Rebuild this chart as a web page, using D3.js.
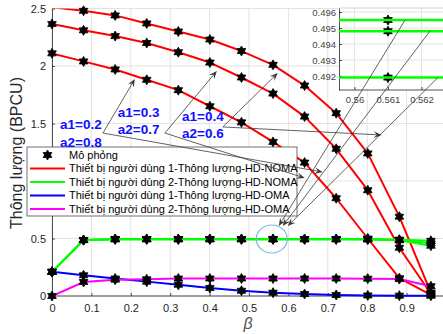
<!DOCTYPE html>
<html><head><meta charset="utf-8">
<script src="https://cdn.jsdelivr.net/npm/d3@7"></script>
<style>
body{margin:0;background:#fff}
svg{display:block}
text{font-family:"Liberation Sans",Arial,Helvetica,sans-serif}
</style>
</head><body>
<svg id="c" width="443" height="334"></svg>
<script>
// ---------------- data ----------------
const beta = [0, 0.0801, 0.1603, 0.2404, 0.3206, 0.4007, 0.4809, 0.5610, 0.6411, 0.7213, 0.8014, 0.8816, 0.9617];
// user 1, HD-NOMA (red), three power allocations
const u1NomaA02 = [2.11, 2.04, 1.97, 1.88, 1.79, 1.65, 1.51, 1.34, 1.16, 0.85, 0.50, 0.155, 0.01];
const u1NomaA03 = [2.365, 2.31, 2.26, 2.20, 2.12, 2.03, 1.90, 1.76, 1.56, 1.28, 0.92, 0.42, 0.02];
const u1NomaA04 = [2.51, 2.48, 2.44, 2.37, 2.30, 2.23, 2.13, 2.01, 1.83, 1.59, 1.24, 0.69, 0.03];
// user 2, HD-NOMA (green), three power allocations
const u2NomaA02 = [0.21, 0.487, 0.4955, 0.4955, 0.4955, 0.4955, 0.4955, 0.4955, 0.4955, 0.4954, 0.495, 0.49, 0.48];
const u2NomaA03 = [0.21, 0.487, 0.4948, 0.4948, 0.4948, 0.4948, 0.4948, 0.4948, 0.4948, 0.4947, 0.494, 0.487, 0.458];
const u2NomaA04 = [0.21, 0.485, 0.4919, 0.4919, 0.4919, 0.4919, 0.4919, 0.4919, 0.4919, 0.4918, 0.491, 0.485, 0.437];
// OMA
const u1Oma = [0.21, 0.18, 0.152, 0.125, 0.098, 0.07, 0.046, 0.029, 0.017, 0.009, 0.005, 0.003, 0.002];
const u2Oma = [0, 0.122, 0.142, 0.145, 0.152, 0.152, 0.152, 0.152, 0.152, 0.152, 0.151, 0.147, 0.085];

const xTicks = [0, 0.1, 0.2, 0.3, 0.4, 0.5, 0.6, 0.7, 0.8, 0.9];
const yTicks = [0, 0.5, 1, 1.5, 2, 2.5];
const insetXTicks = [0.56, 0.561, 0.562];
const insetYTicks = [0.492, 0.493, 0.494, 0.495, 0.496];
const legendLabels = ["Mô phỏng",
  "Thiết bị người dùng 1-Thông lượng-HD-NOMA",
  "Thiết bị người dùng 2-Thông lượng-HD-NOMA",
  "Thiết bị người dùng 1-Thông lượng-HD-OMA",
  "Thiết bị người dùng 2-Thông lượng-HD-OMA"];
const yLabel = "Thông lượng (BPCU)";
const xLabel = "β";

// ---------------- setup ----------------
const red = "#ff0000", green = "#00ff00", blue = "#0000ff", magenta = "#ff00ff";
const series = [
  {v: u1NomaA02, c: red}, {v: u1NomaA03, c: red}, {v: u1NomaA04, c: red},
  {v: u2NomaA02, c: green}, {v: u2NomaA03, c: green}, {v: u2NomaA04, c: green},
  {v: u1Oma, c: blue}, {v: u2Oma, c: magenta}
];

const svg = d3.select("#c");
const x = d3.scaleLinear([0, 1], [52, 446]);
const y = d3.scaleLinear([0, 2.5], [296, 8.5]);
const axisCol = "#262626", gridCol = "#e3e3e3";

function hexPath(R) {
  const p = [];
  for (let i = 0; i < 12; i++) {
    const a = -Math.PI / 2 + i * Math.PI / 6;
    const r = i % 2 === 0 ? R : R / Math.sqrt(3);
    p.push([r * Math.cos(a), r * Math.sin(a)]);
  }
  return "M" + p.map(d => d[0].toFixed(2) + "," + d[1].toFixed(2)).join("L") + "Z";
}
const hex = hexPath(5.0);

const defs = svg.append("defs");
defs.append("clipPath").attr("id", "mainClip").append("rect")
  .attr("x", 52).attr("y", 8.5).attr("width", 400).attr("height", 289);

// grid
const grid = svg.append("g");
grid.selectAll(".gx").data(xTicks).join("line")
  .attr("x1", d => x(d)).attr("x2", d => x(d)).attr("y1", y(0)).attr("y2", y(2.5))
  .attr("stroke", gridCol).attr("stroke-width", 1);
grid.selectAll(".gy").data(yTicks).join("line")
  .attr("x1", x(0)).attr("x2", 443).attr("y1", d => y(d)).attr("y2", d => y(d))
  .attr("stroke", gridCol).attr("stroke-width", 1);

// axes
const gx = svg.append("g").attr("transform", `translate(0,${y(0)})`)
  .call(d3.axisBottom(x).tickValues(xTicks).tickFormat(d3.format("")).tickSizeInner(-3).tickSizeOuter(0).tickPadding(8));
const gy = svg.append("g").attr("transform", `translate(${x(0)},0)`)
  .call(d3.axisLeft(y).tickValues(yTicks).tickFormat(d3.format("")).tickSizeInner(-3).tickSizeOuter(0).tickPadding(6));
[gx, gy].forEach(g => {
  g.select(".domain").attr("stroke", axisCol).attr("stroke-width", 0.8);
  g.selectAll(".tick line").attr("stroke", axisCol).attr("stroke-width", 0.8);
  g.selectAll(".tick text").attr("fill", axisCol).attr("font-size", 11)
    .attr("font-family", '"Liberation Sans",Arial,Helvetica,sans-serif');
});
gx.select(".domain").attr("d", `M${x(0)},0H443`);

// axis labels
svg.append("text").attr("transform", "translate(22,153) rotate(-90)")
  .attr("text-anchor", "middle").attr("font-size", 16).attr("fill", axisCol).text(yLabel);
svg.append("text").attr("x", 248).attr("y", 329).attr("text-anchor", "middle")
  .attr("font-size", 16).attr("font-style", "italic").attr("fill", "#555").text(xLabel);

// plot marks
const plot = svg.append("g").attr("clip-path", "url(#mainClip)");
const line = d3.line().x((d, i) => x(beta[i])).y(d => y(d));
// markers ("Mô phỏng") first
const mk = svg.append("g");
series.forEach(s => {
  mk.selectAll(null).data(s.v.map((v, i) => [beta[i], v]).filter(d => d[1] <= 2.5)).join("path")
    .attr("d", hex).attr("transform", d => `translate(${x(d[0])},${y(d[1])})`)
    .attr("fill", "#000").attr("stroke", "#000").attr("stroke-width", 0.8);
});
series.forEach(s => {
  plot.append("path").attr("d", line(s.v)).attr("fill", "none")
    .attr("stroke", s.c).attr("stroke-width", 2).attr("stroke-linejoin", "round");
});

// zoom circle
svg.append("ellipse").attr("cx", x(0.5578)).attr("cy", y(0.4957)).attr("rx", 15.5).attr("ry", 14)
  .attr("fill", "none").attr("stroke", "#80b4dc").attr("stroke-width", 1.2);

// legend
const lg = svg.append("g");
lg.append("rect").attr("x", 27).attr("y", 147).attr("width", 270).attr("height", 69)
  .attr("fill", "#fff").attr("stroke", "#333").attr("stroke-width", 0.7);
const legColors = [null, red, green, blue, magenta];
legendLabels.forEach((t, i) => {
  const cy = 155 + i * 13.5;
  if (i === 0) {
    lg.append("path").attr("d", hex).attr("transform", `translate(47.5,${cy})`).attr("fill", "#000").attr("stroke", "#000").attr("stroke-width", 0.8);
  } else {
    lg.append("line").attr("x1", 30).attr("x2", 65).attr("y1", cy).attr("y2", cy)
      .attr("stroke", legColors[i]).attr("stroke-width", 2);
  }
  lg.append("text").attr("x", 69).attr("y", cy).attr("dy", "0.36em").attr("font-size", 11)
    .attr("fill", "#000").text(t);
});

// ---------------- inset ----------------
const xi = d3.scaleLinear([0.55954, 0.56270], [339, 445]);
const yi = d3.scaleLinear([0.491125, 0.49625], [90, 8]);
defs.append("clipPath").attr("id", "insClip").append("rect")
  .attr("x", 339).attr("y", 8).attr("width", 110).attr("height", 82);
const ins = svg.append("g");
ins.append("rect").attr("x", 339).attr("y", 8).attr("width", 110).attr("height", 82).attr("fill", "#fff");
ins.selectAll(".igx").data(insetXTicks).join("line")
  .attr("x1", d => xi(d)).attr("x2", d => xi(d)).attr("y1", 8).attr("y2", 90)
  .attr("stroke", gridCol);
ins.selectAll(".igy").data(insetYTicks).join("line")
  .attr("x1", 339).attr("x2", 443).attr("y1", d => yi(d)).attr("y2", d => yi(d))
  .attr("stroke", gridCol);
ins.append("line").attr("x1", 339).attr("x2", 443).attr("y1", 8).attr("y2", 8).attr("stroke", "#bbb").attr("stroke-width", 0.6);
const gix = ins.append("g").attr("transform", "translate(0,90)")
  .call(d3.axisBottom(xi).tickValues(insetXTicks).tickFormat(d3.format("")).tickSizeInner(-3).tickSizeOuter(0).tickPadding(6));
const giy = ins.append("g").attr("transform", "translate(339,0)")
  .call(d3.axisLeft(yi).tickValues(insetYTicks).tickFormat(d3.format("")).tickSizeInner(-3).tickSizeOuter(0).tickPadding(3));
[gix, giy].forEach(g => {
  g.select(".domain").attr("stroke", axisCol).attr("stroke-width", 0.8);
  g.selectAll(".tick line").attr("stroke", axisCol).attr("stroke-width", 0.8);
  g.selectAll(".tick text").attr("fill", "#444").attr("font-size", 9.5)
    .attr("font-family", '"Liberation Sans",Arial,Helvetica,sans-serif');
});
gix.select(".domain").attr("d", "M339,0H443");
const lineI = d3.line().x((d, i) => xi(beta[i])).y(d => yi(d));
const insPlot = ins.append("g").attr("clip-path", "url(#insClip)");
[u2NomaA02, u2NomaA03, u2NomaA04].forEach(v => {
  insPlot.selectAll(null).data(v.map((d, i) => [beta[i], d]).filter(d => d[0] > 0.559 && d[0] < 0.563)).join("path")
    .attr("d", hex).attr("transform", d => `translate(${xi(d[0])},${yi(d[1])})`)
    .attr("fill", "#000").attr("stroke", "#000").attr("stroke-width", 0.8);
});
[u2NomaA02, u2NomaA03, u2NomaA04].forEach(v => {
  insPlot.append("path").attr("d", lineI(v)).attr("fill", "none").attr("stroke", green).attr("stroke-width", 2.5);
});

// ---------------- annotations ----------------
const ann = svg.append("g");
const annCol = "#3a3a3a";
function arrow(p0, p1) {
  const dx = p1[0] - p0[0], dy = p1[1] - p0[1], L = Math.hypot(dx, dy);
  const ux = dx / L, uy = dy / L, nx = -uy, ny = ux;
  const hl = 8, hw = 3.3;
  const back = [p1[0] - hl * ux, p1[1] - hl * uy];
  const notch = [p1[0] - 0.6 * hl * ux, p1[1] - 0.6 * hl * uy];
  ann.append("line").attr("x1", p0[0]).attr("y1", p0[1]).attr("x2", notch[0]).attr("y2", notch[1])
    .attr("stroke", annCol).attr("stroke-width", 0.8);
  ann.append("path").attr("d",
    `M${p1[0]},${p1[1]}L${back[0] + hw * nx},${back[1] + hw * ny}L${notch[0]},${notch[1]}L${back[0] - hw * nx},${back[1] - hw * ny}Z`)
    .attr("fill", annCol);
}
const P = d => [x(d[0]), y(d[1])];
const allocNotes = [
  {text: ["a1=0.2", "a2=0.8"], at: [0.0203, 1.452], tail: [0.1293, 1.417], heads: [[0.2104, 1.887], [0.6871, 1.078]]},
  {text: ["a1=0.3", "a2=0.7"], at: [0.167, 1.557], tail: [0.2865, 1.417], heads: [[0.4184, 1.957], [0.6415, 1.026]]},
  {text: ["a1=0.4", "a2=0.6"], at: [0.330, 1.522], tail: [0.4336, 1.470], heads: [[0.5730, 1.939], [0.8367, 1.400]]}
];
allocNotes.forEach(a => {
  a.heads.forEach(h => arrow(P(a.tail), P(h)));
  a.text.forEach((t, i) => {
    ann.append("text").attr("x", x(a.at[0])).attr("y", y(a.at[1]) + i * 17.5)
      .attr("font-size", 13.5).attr("font-weight", "bold").attr("fill", "#1010ff").text(t);
  });
});
// connectors from inset to the zoom circle
const connectors = [
  {tail: [0.56151, 0.4955], head: [0.5756, 0.6087]},
  {tail: [0.56225, 0.4948], head: [0.5857, 0.6087]},
  {tail: [0.56249, 0.4919], head: [0.5984, 0.6087]}
];
connectors.forEach(c => arrow([xi(c.tail[0]), yi(c.tail[1])], P(c.head)));
</script>
</body></html>
